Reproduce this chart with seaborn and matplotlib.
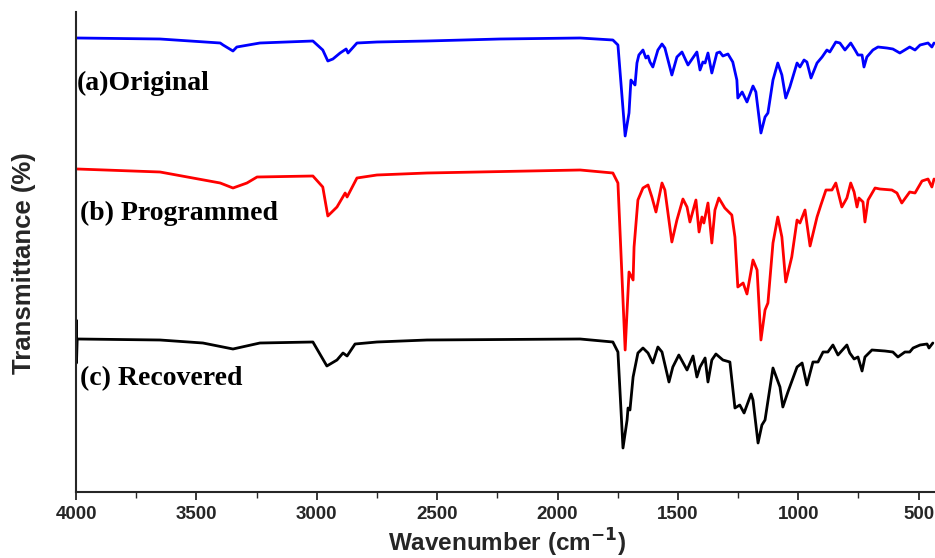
import numpy as np
import pandas as pd
import matplotlib
matplotlib.use("Agg")
import matplotlib.pyplot as plt
import seaborn as sns
from matplotlib.ticker import MultipleLocator

# ---- data (wavenumber cm^-1, transmittance in arbitrary offset units) ----
wn_a = [3995, 3651, 3401, 3389, 3348, 3332, 3236, 3016, 2975, 2954, 2933, 2903, 2878, 2870,
        2833, 2750, 2542, 2239, 1906, 1770, 1749, 1719, 1703, 1695, 1678, 1670, 1662, 1645,
        1633, 1624, 1616, 1604, 1583, 1566, 1554, 1525, 1504, 1483, 1458, 1421, 1408, 1396,
        1387, 1375, 1359, 1338, 1326, 1313, 1292, 1272, 1255, 1251, 1233, 1213, 1188, 1176,
        1155, 1138, 1126, 1105, 1085, 1068, 1052, 1035, 1005, 993, 976, 964, 947, 922, 901,
        881, 869, 844, 827, 806, 782, 764, 752, 735, 727, 715, 690, 669, 632, 607, 578, 537,
        515, 494, 461, 445, 436]
t_a = [454, 453, 449, 447, 441, 445, 449, 451, 442, 431, 433, 439, 443, 439,
       449, 450, 451, 453, 454, 452, 447, 356, 379, 412, 407, 429, 437, 442,
       434, 436, 430, 425, 442, 448, 444, 417, 435, 440, 427, 440, 422, 430,
       429, 439, 419, 439, 440, 436, 438, 430, 412, 394, 400, 390, 406, 400,
       359, 375, 379, 412, 429, 417, 394, 405, 429, 425, 432, 430, 414, 429, 435,
       442, 440, 450, 449, 442, 449, 442, 437, 437, 425, 435, 442, 445, 444, 443, 439, 445,
       442, 447, 449, 445, 449]

wn_b = [3995, 3651, 3401, 3348, 3290, 3248, 3016, 2975, 2954, 2916, 2882, 2874, 2833, 2750,
        2542, 1906, 1770, 1749, 1719, 1703, 1686, 1682, 1666, 1645, 1624, 1608, 1591, 1566,
        1554, 1525, 1504, 1479, 1462, 1450, 1425, 1412, 1400, 1392, 1375, 1359, 1346, 1330,
        1305, 1276, 1263, 1251, 1229, 1213, 1188, 1171, 1155, 1138, 1126, 1105, 1085, 1068,
        1052, 1027, 1005, 993, 972, 951, 922, 906, 885, 860, 844, 819, 798, 782, 768, 756,
        748, 731, 723, 710, 681, 661, 611, 590, 570, 537, 515, 486, 461, 445, 436]
t_b = [323, 320, 309, 304, 309, 315, 316, 305, 276, 285, 299, 295, 314, 317,
       319, 322, 319, 309, 142, 220, 212, 245, 292, 304, 307, 295, 280, 309,
       302, 250, 272, 293, 285, 270, 292, 260, 275, 269, 289, 249, 282, 294,
       284, 277, 255, 205, 209, 198, 232, 222, 152, 182, 189, 249, 275, 255,
       210, 235, 272, 269, 282, 246, 275, 287, 302, 302, 309, 285, 294, 309, 300, 285,
       294, 290, 270, 292, 304, 303, 302, 299, 289, 300, 299, 311, 313, 305, 313]

wn_c = [4000, 3999, 3998, 3995, 3651, 3473, 3348, 3236, 3016, 2958, 2916, 2891, 2874, 2841,
        2750, 2542, 1906, 1770, 1749, 1728, 1711, 1707, 1699, 1686, 1666, 1645, 1624, 1604,
        1583, 1566, 1537, 1521, 1496, 1462, 1437, 1421, 1408, 1387, 1375, 1359, 1342, 1313,
        1284, 1263, 1243, 1225, 1196, 1188, 1167, 1151, 1138, 1105, 1076, 1064, 1043, 1005,
        984, 964, 939, 918, 897, 877, 856, 835, 798, 786, 768, 752, 735, 723, 694, 640, 607,
        586, 557, 537, 523, 494, 465, 457, 441]
t_c = [153, 172, 129, 153, 152, 149, 143, 149, 150, 126, 132, 139, 136, 148,
       150, 152, 153, 150, 140, 44, 72, 84, 82, 115, 139, 144, 139, 129,
       145, 140, 110, 125, 137, 122, 136, 115, 125, 134, 110, 132, 138, 132,
       130, 84, 87, 79, 98, 92, 49, 67, 72, 124, 105, 85, 100, 125,
       129, 107, 130, 130, 140, 140, 147, 137, 147, 139, 133, 135, 121, 135, 142, 141, 140,
       135, 140, 140, 144, 147, 148, 144, 149]

labels = ["(a)Original", "(b) Programmed", "(c) Recovered"]
colors = ["#0000FF", "#FF0000", "#000000"]
label_y = [409, 279, 113]
label_x = [3996, 3983, 3983]

frames = []
for name, wn, t in zip(labels, [wn_a, wn_b, wn_c], [t_a, t_b, t_c]):
    frames.append(pd.DataFrame({"wn": wn, "T": t, "sample": name}))
df = pd.concat(frames, ignore_index=True)

sns.set_style("ticks")
fig = plt.figure(figsize=(9.35, 5.58), dpi=100)
ax = fig.add_axes([76/935, 1-492/558, 1-76/935, (492-12)/558])

for name, col in zip(labels, colors):
    sub = df[df["sample"] == name]
    sns.lineplot(data=sub, x="wn", y="T", color=col, lw=2.0, ax=ax,
                 estimator=None, sort=False, legend=False)

for name, col, lx, ly in zip(labels, colors, label_x, label_y):
    ax.text(lx, ly, name, family="Liberation Serif", fontweight="bold",
            fontsize=20, ha="left", va="center", color="black")

ax.set_xlim(4000, 432)
ax.set_ylim(0, 480)
ax.xaxis.set_major_locator(MultipleLocator(500))
ax.xaxis.set_minor_locator(MultipleLocator(250))
ax.set_yticks([])
for s in ["top", "right"]:
    ax.spines[s].set_visible(False)
for s in ["left", "bottom"]:
    ax.spines[s].set_linewidth(1.5)
ax.tick_params(axis="x", which="major", length=6, width=1.3, direction="out", pad=4)
ax.tick_params(axis="x", which="minor", length=4, width=1.0, direction="out")
for lab in ax.get_xticklabels():
    lab.set_family("Liberation Sans")
    lab.set_fontweight("bold")
    lab.set_fontsize(13.5)
ax.set_xlabel("Wavenumber (cm$^{\\mathbf{-1}}$)", family="Liberation Sans",
              fontweight="bold", fontsize=17.5)
ax.set_ylabel("Transmittance (%)", family="Liberation Sans",
              fontweight="bold", fontsize=18.5)
ax.xaxis.set_label_coords(0.502, -0.072)
ax.yaxis.set_label_coords(-0.047, 0.477)

fig.savefig("out.png", dpi=100)
